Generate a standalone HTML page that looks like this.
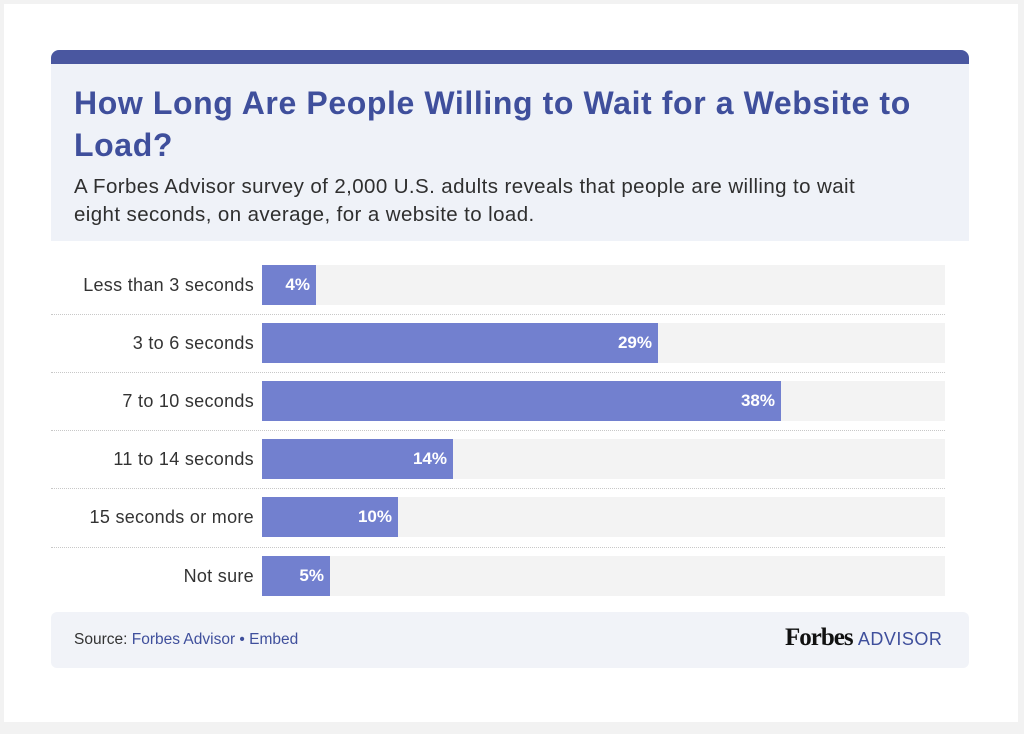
<!DOCTYPE html>
<html><head><style>
body{margin:0;background:#f2f2f2;font-family:"Liberation Sans",sans-serif;}
#card{position:absolute;left:4px;top:4px;width:1014px;height:718px;background:#fff;}
.abs{position:absolute;}
#top{left:51px;top:50px;width:918px;height:15px;background:#4a57a0;border-radius:8px 8px 0 0;}
#head{left:51px;top:64px;width:918px;height:177px;background:#eff2f8;}
#title{left:74px;top:82px;width:880px;font-size:32px;letter-spacing:0.6px;font-weight:bold;color:#3f4f9c;line-height:42px;}
#sub{left:74px;top:173px;width:880px;font-size:20.5px;letter-spacing:0.4px;color:#2f2f2f;line-height:28px;white-space:nowrap;}
.track{left:262px;width:683px;height:40px;background:#f3f3f3;}
.bar{left:262px;height:40px;background:#7280cf;color:#fff;font-size:17px;font-weight:bold;text-align:right;line-height:40px;box-sizing:border-box;padding-right:6px;}
.lab{left:51px;width:203px;text-align:right;font-size:18px;letter-spacing:0.3px;color:#333;line-height:40px;}
.sep{left:51px;width:894px;border-top:1px dotted #c8c8c8;}
#foot{left:51px;top:612px;width:918px;height:56px;background:#f1f3f8;border-radius:6px;}
</style></head><body>
<div id="card"></div>
<div class="abs" id="top"></div>
<div class="abs" id="head"></div>
<div class="abs" id="title">How Long Are People Willing to Wait for a Website to Load?</div>
<div class="abs" id="sub">A Forbes Advisor survey of 2,000 U.S. adults reveals that people are willing to wait<br>eight seconds, on average, for a website to load.</div>

<div class="abs track" style="top:265px"></div><div class="abs bar" style="top:265px;width:54px">4%</div><div class="abs lab" style="top:265px">Less than 3 seconds</div>
<div class="abs sep" style="top:314px"></div>
<div class="abs track" style="top:323px"></div><div class="abs bar" style="top:323px;width:396px">29%</div><div class="abs lab" style="top:323px">3 to 6 seconds</div>
<div class="abs sep" style="top:372px"></div>
<div class="abs track" style="top:381px"></div><div class="abs bar" style="top:381px;width:519px">38%</div><div class="abs lab" style="top:381px">7 to 10 seconds</div>
<div class="abs sep" style="top:430px"></div>
<div class="abs track" style="top:439px"></div><div class="abs bar" style="top:439px;width:191px">14%</div><div class="abs lab" style="top:439px">11 to 14 seconds</div>
<div class="abs sep" style="top:488px"></div>
<div class="abs track" style="top:497px"></div><div class="abs bar" style="top:497px;width:136px">10%</div><div class="abs lab" style="top:497px">15 seconds or more</div>
<div class="abs sep" style="top:547px"></div>
<div class="abs track" style="top:556px"></div><div class="abs bar" style="top:556px;width:68px">5%</div><div class="abs lab" style="top:556px">Not sure</div>

<div class="abs" id="foot"></div>
<div class="abs" style="left:74px;top:631px;font-size:15.5px;color:#333">Source: <span style="color:#3f4f9c">Forbes Advisor • Embed</span></div>
<div class="abs" style="left:785px;top:624px;font-size:25px;font-family:'Liberation Serif',serif;font-weight:bold;color:#111;letter-spacing:-1px">Forbes <span style="font-family:'Liberation Sans',sans-serif;font-weight:normal;font-size:18px;color:#3f4f9c;letter-spacing:0.5px">ADVISOR</span></div>
</body></html>
